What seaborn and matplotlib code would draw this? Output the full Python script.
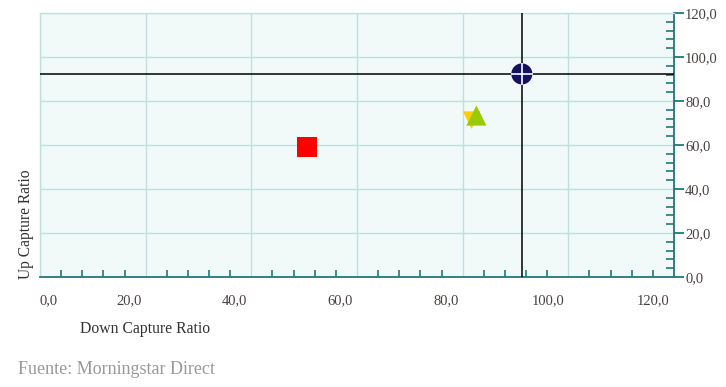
import matplotlib
matplotlib.use("Agg")
import matplotlib.pyplot as plt
import seaborn as sns
import pandas as pd
from matplotlib.ticker import MultipleLocator, FuncFormatter

# Data
names = ["Fondo A", "Fondo B", "Fondo C", "Índice"]
down_capture = [50.5, 82.6, 81.7, 91.2]
up_capture = [59.1, 73.4, 71.3, 92.3]
markers = ["s", "^", "v", "o"]
colors = ["#ff0000", "#99cc00", "#ffcc00", "#14145e"]
sizes = [200, 210, 160, 230]
ref_x = 91.2
ref_y = 92.3

x_ticks = [0, 20, 40, 60, 80, 100, 120]
y_ticks = [0, 20, 40, 60, 80, 100, 120]

sns.set_theme(style="white")
plt.rcParams["font.family"] = ["Liberation Serif", "DejaVu Serif"]

fig = plt.figure(figsize=(7.26, 3.87), dpi=100)
ax = fig.add_axes([40/726, 110/387, 634/726, 264/387])
ax.set_facecolor("#f2f9f9")

teal = "#1f7a7a"
grid_c = "#bfe0dd"
lab_c = "#4a4040"

ax.set_xlim(0, 120)
ax.set_ylim(0, 120)
ax.set_xticks(x_ticks)
ax.set_yticks(y_ticks)
ax.xaxis.set_minor_locator(MultipleLocator(4))
ax.yaxis.set_minor_locator(MultipleLocator(4))
fmt = FuncFormatter(lambda v, p: f"{v:.1f}".replace(".", ","))
ax.yaxis.set_major_formatter(fmt)
ax.set_xticklabels([])

ax.grid(True, which="major", color=grid_c, linewidth=1.0)
ax.set_axisbelow(True)

for s in ["top", "left"]:
    ax.spines[s].set_color(grid_c)
    ax.spines[s].set_linewidth(1.0)
ax.spines["bottom"].set_color(teal)
ax.spines["right"].set_color(teal)
ax.spines["bottom"].set_linewidth(1.3)
ax.spines["right"].set_linewidth(1.3)

ax.yaxis.tick_right()
ax.tick_params(axis="x", which="major", direction="out", length=7, width=1.3, color=teal)
ax.tick_params(axis="x", which="minor", direction="in", length=5, width=1.2, color=teal, bottom=True)
ax.tick_params(axis="y", which="major", direction="out", length=7, width=1.3, color=teal,
               labelsize=10.5, labelcolor=lab_c, pad=1, right=True, left=False)
ax.tick_params(axis="y", which="minor", direction="in", length=6, width=1.2, color=teal,
               right=True, left=False)

# x tick labels: placed just left of each tick (first one starts at the tick)
trans = ax.get_xaxis_transform()
for v in x_ticks:
    lbl = f"{v:.1f}".replace(".", ",")
    if v == 0:
        ax.text(v, -0.09, lbl, transform=trans, ha="left", va="center",
                fontsize=10.5, color=lab_c)
    else:
        ax.text(v - 0.8, -0.09, lbl, transform=trans, ha="right", va="center",
                fontsize=10.5, color=lab_c)

# Crosshair
ax.axvline(ref_x, color="black", linewidth=1.1, zorder=3)
ax.axhline(ref_y, color="black", linewidth=1.1, zorder=3)

df = pd.DataFrame({"name": names, "down": down_capture, "up": up_capture})
order = [2, 1, 0, 3]
for i in order:
    sub = df.iloc[[i]]
    sns.scatterplot(data=sub, x="down", y="up", marker=markers[i], color=colors[i],
                    s=sizes[i], edgecolor="none", linewidth=0, ax=ax, zorder=5, legend=False)
sns.scatterplot(data=df.iloc[[3]], x="down", y="up", marker="+", color="white",
                s=230, linewidth=1.2, ax=ax, zorder=6, legend=False)

ax.set_xlabel("")
ax.set_ylabel("")
fig.text(80/726, 1 - 329/387, "Down Capture Ratio", fontsize=11.3, color="#333333",
         ha="left", va="center")
fig.text(26/726, 1 - 224/387, "Up Capture Ratio", fontsize=11.2, color="#333333",
         ha="center", va="center", rotation=90)
fig.text(18/726, 1 - 369/387, "Fuente: Morningstar Direct", fontsize=13, color="#999999",
         ha="left", va="center")

fig.savefig("out.png", dpi=100)
